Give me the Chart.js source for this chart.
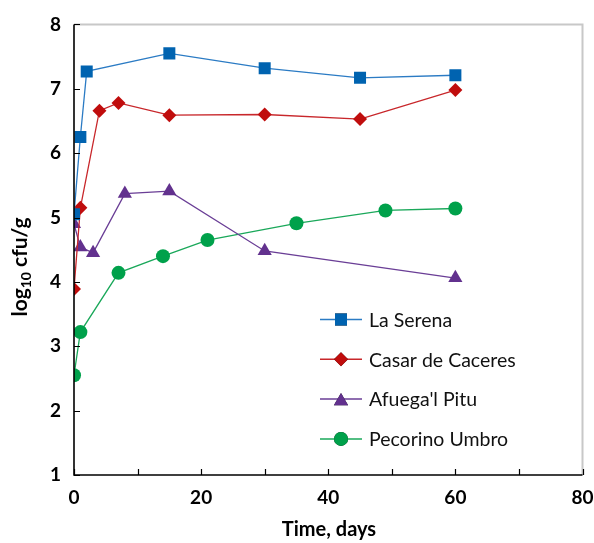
<!DOCTYPE html>
<html>
<head>
<meta charset="utf-8">
<script src="https://cdn.jsdelivr.net/npm/chart.js@4/dist/chart.umd.min.js"></script>
<style>
  html, body { margin: 0; padding: 0; background: #fff; }
  #wrap { width: 594px; height: 543px; }
</style>
</head>
<body>
<div id="wrap"><canvas id="chart" width="594" height="543"></canvas></div>
<script>
// ---- data ----
const serenaDays = [0, 1, 2, 15, 30, 45, 60];
const serenaVals = [5.05, 6.25, 7.27, 7.55, 7.32, 7.17, 7.21];

const casarDays = [0, 1, 4, 7, 15, 30, 45, 60];
const casarVals = [3.89, 5.15, 6.66, 6.78, 6.59, 6.60, 6.53, 6.98];

const afuegaDays = [0, 1, 3, 8, 15, 30, 60];
const afuegaVals = [4.90, 4.54, 4.45, 5.37, 5.41, 4.48, 4.06];

const pecorinoDays = [0, 1, 7, 14, 21, 35, 49, 60];
const pecorinoVals = [2.55, 3.22, 4.14, 4.40, 4.65, 4.91, 5.11, 5.14];

const seriesNames = ['La Serena', 'Casar de Caceres', "Afuega'l Pitu", 'Pecorino Umbro'];

const xMin = 0, xMax = 80, xStep = 10;
const yMin = 1, yMax = 8, yStep = 1;

const FONT = 'Lato, "Open Sans", sans-serif';

function pts(xs, ys) {
  return xs.map((x, i) => ({ x, y: ys[i] }));
}

// inward tick marks, grey top/right frame, titles, inner legend
const decor = {
  id: 'decor',
  afterDraw(chart) {
    const { ctx, chartArea: a, scales } = chart;
    ctx.save();

    // grey frame on top and right
    ctx.strokeStyle = '#c8c8c8';
    ctx.lineWidth = 2;
    ctx.beginPath();
    ctx.moveTo(a.left, a.top);
    ctx.lineTo(a.right, a.top);
    ctx.lineTo(a.right, a.bottom);
    ctx.stroke();

    // black axes
    ctx.strokeStyle = '#000';
    ctx.lineWidth = 1.6;
    ctx.beginPath();
    ctx.moveTo(a.left, a.top);
    ctx.lineTo(a.left, a.bottom);
    ctx.lineTo(a.right, a.bottom);
    ctx.stroke();

    // inward ticks
    ctx.lineWidth = 1.2;
    ctx.beginPath();
    scales.x.ticks.forEach(t => {
      const px = Math.round(scales.x.getPixelForValue(t.value)) + 0.5;
      ctx.moveTo(px, a.bottom);
      ctx.lineTo(px, a.bottom - 6);
    });
    scales.y.ticks.forEach(t => {
      const py = Math.round(scales.y.getPixelForValue(t.value)) + 0.5;
      ctx.moveTo(a.left, py);
      ctx.lineTo(a.left + 6, py);
    });
    ctx.stroke();

    // x title
    ctx.fillStyle = '#000';
    ctx.font = 'bold 20px ' + FONT;
    ctx.textAlign = 'center';
    ctx.textBaseline = 'middle';
    ctx.fillText('Time, days', 329, 530);

    // y title: log10 cfu/g with subscript
    ctx.translate(20, 267);
    ctx.rotate(-Math.PI / 2);
    const big = 'bold 21px ' + FONT, small = 'bold 14px ' + FONT;
    ctx.font = big; const w1 = ctx.measureText('log').width;
    ctx.font = small; const w2 = ctx.measureText('10').width;
    ctx.font = big; const w3 = ctx.measureText(' cfu/g').width;
    let x0 = -(w1 + w2 + w3) / 2;
    ctx.textAlign = 'left';
    ctx.font = big; ctx.fillText('log', x0, 0);
    ctx.font = small; ctx.fillText('10', x0 + w1, 6);
    ctx.font = big; ctx.fillText(' cfu/g', x0 + w1 + w2, 0);
    ctx.setTransform(1, 0, 0, 1, 0, 0);

    // legend inside plot
    chart.data.datasets.forEach((ds, i) => {
      const y = 319.5 + i * 39.8;
      ctx.strokeStyle = ds.borderColor;
      ctx.lineWidth = 1.5;
      ctx.beginPath();
      ctx.moveTo(320, y);
      ctx.lineTo(362, y);
      ctx.stroke();
      Chart.helpers.drawPoint(ctx, {
        pointStyle: ds.pointStyle,
        radius: ds.pointRadius,
        borderWidth: 0,
        rotation: 0
      }, 341, y + (ds.pointStyle === 'triangle' ? 2 : 0));
      ctx.fillStyle = ds.pointBackgroundColor;
      ctx.fill();
      ctx.fillStyle = '#111';
      ctx.font = '19.5px ' + FONT;
      ctx.textAlign = 'left';
      ctx.textBaseline = 'middle';
      ctx.fillText(ds.label, 369, y + 1);
    });

    ctx.restore();
  }
};

const makeSet = (label, data, line, fill, style, r) => ({
  label, data,
  borderColor: line,
  backgroundColor: fill,
  pointBackgroundColor: fill,
  pointBorderColor: fill,
  pointBorderWidth: 0,
  pointStyle: style,
  pointRadius: r,
  pointHoverRadius: r,
  borderWidth: 1.3,
  tension: 0,
  fill: false,
  showLine: true
});

new Chart(document.getElementById('chart'), {
  type: 'scatter',
  data: {
    datasets: [
      makeSet(seriesNames[0], pts(serenaDays, serenaVals), '#2b7bc4', '#0063b0', 'rect', 8.5),
      makeSet(seriesNames[1], pts(casarDays, casarVals), '#c8272b', '#c00d0d', 'rectRot', 7),
      makeSet(seriesNames[2], pts(afuegaDays, afuegaVals), '#6a3e96', '#62318e', 'triangle', 8.2),
      makeSet(seriesNames[3], pts(pecorinoDays, pecorinoVals), '#1aa85a', '#00a14b', 'circle', 7)
    ]
  },
  plugins: [decor],
  options: {
    responsive: false,
    animation: false,
    events: [],
    layout: { padding: { left: 0, top: 16, right: 0, bottom: 0 } },
    plugins: { legend: { display: false }, tooltip: { enabled: false } },
    scales: {
      x: {
        type: 'linear',
        min: xMin, max: xMax,
        grid: { display: false, drawTicks: false },
        border: { display: false },
        afterFit: s => { s.height = 68; s.paddingRight = 11.5; s.paddingLeft = 0; },
        ticks: {
          stepSize: xStep,
          autoSkip: false,
          maxRotation: 0,
          padding: 11,
          color: '#000',
          font: { family: FONT, size: 19, weight: 'bold' },
          callback: v => (v % 20 === 0 ? v : '')
        }
      },
      y: {
        min: yMin, max: yMax,
        grid: { display: false, drawTicks: false },
        border: { display: false },
        afterFit: s => { s.width = 74; },
        ticks: {
          stepSize: yStep,
          padding: 13,
          color: '#000',
          font: { family: FONT, size: 19, weight: 'bold' }
        }
      }
    }
  }
});
</script>
</body>
</html>
